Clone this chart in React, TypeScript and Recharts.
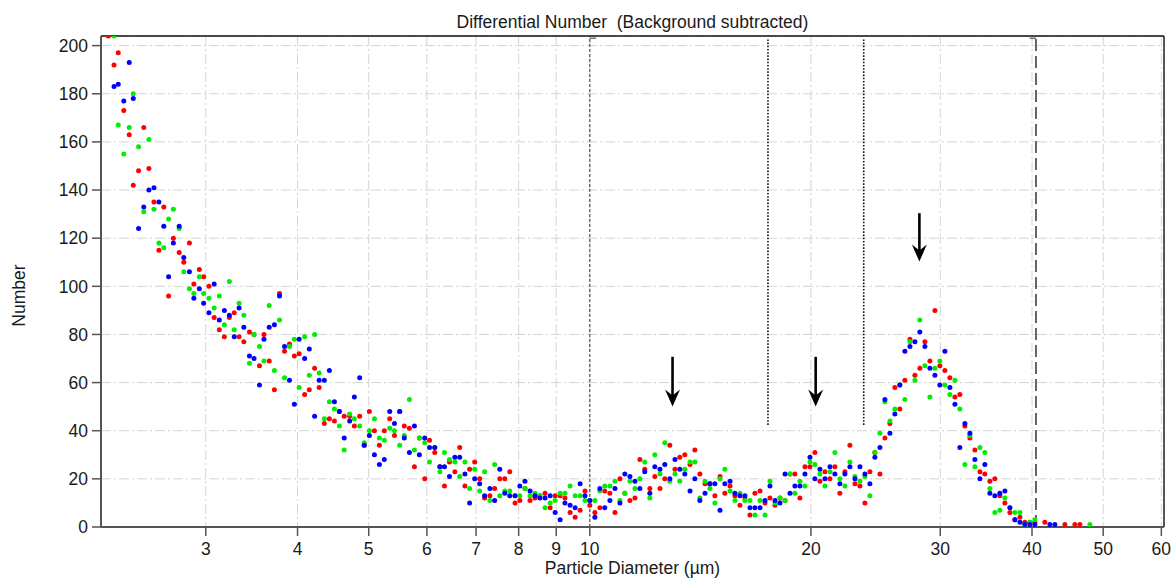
import React from "react";
import {
  ScatterChart,
  Scatter,
  XAxis,
  YAxis,
  CartesianGrid,
  ReferenceLine,
} from "recharts";

// particle diameter channels (µm)
const diameters = [
  2.21, 2.25, 2.28, 2.32, 2.36, 2.39, 2.43, 2.47, 2.51, 2.55,
  2.59, 2.63, 2.67, 2.71, 2.76, 2.8, 2.85, 2.89, 2.94, 2.98,
  3.03, 3.08, 3.13, 3.18, 3.23, 3.28, 3.33, 3.38, 3.44, 3.49,
  3.55, 3.6, 3.66, 3.72, 3.78, 3.84, 3.9, 3.96, 4.02, 4.09,
  4.15, 4.22, 4.28, 4.35, 4.42, 4.49, 4.56, 4.63, 4.71, 4.78,
  4.86, 4.93, 5.01, 5.09, 5.17, 5.25, 5.34, 5.42, 5.51, 5.59,
  5.68, 5.77, 5.86, 5.96, 6.05, 6.15, 6.25, 6.34, 6.44, 6.55,
  6.65, 6.76, 6.86, 6.97, 7.08, 7.19, 7.31, 7.42, 7.54, 7.66,
  7.78, 7.91, 8.03, 8.16, 8.29, 8.42, 8.55, 8.69, 8.83, 8.97,
  9.11, 9.25, 9.4, 9.55, 9.7, 9.85, 10.0, 10.16, 10.32, 10.48,
  10.65, 10.82, 10.99, 11.16, 11.34, 11.52, 11.7, 11.88, 12.07, 12.26,
  12.46, 12.65, 12.85, 13.06, 13.26, 13.47, 13.69, 13.9, 14.12, 14.35,
  14.57, 14.8, 15.04, 15.27, 15.52, 15.76, 16.01, 16.26, 16.52, 16.78,
  17.05, 17.32, 17.59, 17.87, 18.15, 18.44, 18.73, 19.02, 19.32, 19.63,
  19.94, 20.25, 20.57, 20.9, 21.23, 21.56, 21.9, 22.25, 22.6, 22.96,
  23.32, 23.69, 24.06, 24.44, 24.83, 25.22, 25.62, 26.02, 26.43, 26.85,
  27.28, 27.71, 28.14, 28.59, 29.04, 29.5, 29.96, 30.44, 30.92, 31.41,
  31.9, 32.41, 32.92, 33.44, 33.97, 34.5, 35.05, 35.6, 36.16, 36.74,
  37.32, 37.91, 38.51, 39.11, 39.73, 40.36, 41.0, 41.64, 42.3, 42.97,
  43.65, 44.34, 45.04, 45.75, 46.47, 47.21, 47.95, 48.71,
];

// three runs, counts per channel (null = no count)
const runRed = [
  204, 192, 197, 173, 163, 142, 148, 166, 149, 135,
  115, 133, 96, 120, 114, 110, 118, 101, 107, 104,
  100, 87, 82, 79, 87, 89, 79, 77, 81, 80,
  67, 80, 69, 57, 97, 73, 76, 71, 72, 55,
  57, 66, 58, 43, 45, 44, 48, 46, 46, 42,
  46, 34, 48, 40, 34, 40, 45, 38, 48, 42,
  41, 25, 37, 20, 36, 31, 25, 17, 27, 23,
  33, 17, 24, 27, 20, 12, 13, 16, 20, 20,
  23, 10, 11, 16, 11, 12, 13, 14, 8, 13,
  13, 12, 6, 4, 7, 15, 9, 6, 8, 15,
  14, 6, 20, 14, 11, 12, 28, 24, 16, 21,
  16, 20, 34, 24, 29, 30, 26, 32, 22, 18,
  18, 13, 21, 14, 17, 13, 9, 12, 5, 14,
  15, 10, 12, 9, 12, 11, 22, 22, 12, 25,
  25, 31, 19, 23, 20, 25, 14, 23, 34, 18,
  17, 10, 23, 31, 22, 37, 43, 58, 49, 61,
  78, 63, 66, 77, 69, 90, 67, 65, 62, 54,
  55, 42, 37, 32, 23, 22, 19, 20, 13, 10,
  6, 3, 4, 2, 2, 2, null, 2, null, null,
  null, 1, null, 1, 1, null, null, null,
];

const runGreen = [
  null, 204, 167, 155, 166, 180, 158, 131, 161, 132,
  118, 116, 128, 132, 124, 106, 99, 97, 104, 97,
  95, 91, 96, 84, 102, 82, 93, 88, 68, 80,
  75, 69, 92, 65, 86, 62, 75, 78, 58, 79,
  63, 80, 64, 45, 52, 49, 42, 32, 47, 45,
  42, 35, 40, 45, 37, 36, 41, 40, 34, 38,
  53, 32, 37, 35, 27, 33, 23, 31, 28, 27,
  21, 27, 16, 24, 15, 23, 11, 26, 13, 15,
  15, 13, 13, 16, 13, 14, 13, 8, 10, 11,
  14, 14, 17, 13, 13, 11, 11, 11, 15, 17,
  17, 19, 11, 14, 19, 16, 20, 27, 12, 30,
  22, 35, 19, 22, 19, 24, 27, 27, 12, 19,
  16, 10, 20, 24, 15, 11, 14, 11, 11, 5,
  11, 5, 19, 10, 12, 11, 22, 14, 19, 17,
  27, 26, 22, 17, 23, 31, 20, 17, 27, 21,
  19, 21, 13, 31, 39, 52, 44, 49, 59, 53,
  77, 61, 86, 67, 54, 66, 69, 59, 55, 61,
  49, 26, 38, 25, 33, 31, 16, 6, 7, 12,
  8, 6, 6, 1, 2, 3, null, null, null, null,
  null, null, null, null, null, null, 1, null,
];

const runBlue = [
  null, 183, 184, 177, 193, 178, 124, 133, 140, 141,
  135, 125, 104, 118, 125, 112, 106, 95, 99, 93,
  89, 101, 86, 90, 88, 79, 91, 83, 71, 70,
  59, 78, 83, 84, 96, 75, 61, 51, 78, 70,
  74, 46, 61, 61, 65, 52, 48, 37, 44, 54,
  62, 34, 38, 30, 26, 28, 48, 43, 48, 37,
  31, 42, 30, 37, 33, 33, 25, 25, 21, 29,
  29, 22, 10, 20, 18, 13, 16, 11, 24, 14,
  13, 13, 17, 19, 15, 13, 12, 12, 13, 6,
  3, 10, 9, 8, 18, 13, 11, 4, 16, 8,
  11, 16, 10, 22, 21, 19, 16, 23, 14, 25,
  24, 26, 20, 28, 24, 22, 15, 20, 11, 14,
  18, 18, 7, 18, 19, 14, 13, 13, 8, 8,
  8, 11, 17, 11, 10, 22, 14, 17, 17, 22,
  29, 20, 24, 20, 25, 22, 18, 22, 25, 20,
  25, 22, 18, 29, 33, 53, 39, 47, 59, 73,
  75, 77, 81, 75, 66, 63, 59, 73, 58, 51,
  33, 43, 39, 28, 20, 26, 14, 13, 14, 15,
  8, 3, 2, 1, 1, 1, null, null, 1, 1,
  null, null, null, null, null, null, null, null,
];

const xTicks = [3, 4, 5, 6, 7, 8, 9, 10, 20, 30, 40, 50, 60];
const yTicks = [0, 20, 40, 60, 80, 100, 120, 140, 160, 180, 200];

// peak markers (diameter, shaft top, tip)
const arrowX = [12.96, 20.3, 28.1];
const arrowTop = [70.7, 70.7, 130.4];
const arrowTip = [50.1, 50.1, 110.3];

// analysis window bounds and dotted dividers
const windowStart = 10;
const windowEnd = 40.5;
const dividerX = [17.48, 23.6];
const dividerBottom = 42.4;
const bracketY = 203.1;

const X_MIN = 2.16;
const X_MAX = 60.5;
const Y_MAX = 204;

const FONT = '"Liberation Sans", Arial, Helvetica, sans-serif';
// keep the double gap between the two parts of the title
const TITLE = "Differential Number\u00a0 (Background subtracted)";

const toPoints = (ys: (number | null)[]) =>
  diameters
    .map((d, i) => ({ d, n: ys[i] }))
    .filter((p) => p.n !== null && p.n !== undefined);

const dotShape = (color: string) => (props: any) =>
  <circle cx={props.cx} cy={props.cy} r={2.5} fill={color} />;

const ArrowShape = (props: any) => {
  const { x1, y1, x2, y2 } = props;
  if (x1 == null || y2 == null) return null;
  return (
    <g>
      <line x1={x1} y1={y1} x2={x2} y2={y2 - 10} stroke="#000" strokeWidth={2.6} />
      <path
        d={`M${x2},${y2} L${x2 - 7.5},${y2 - 17} L${x2},${y2 - 11} L${x2 + 7.5},${y2 - 17} Z`}
        fill="#000"
      />
    </g>
  );
};

const tickStyle = { fill: "#1a1a1a", fontSize: 17.5, fontFamily: FONT };

export default function App() {
  const redPts = toPoints(runRed);
  const greenPts = toPoints(runGreen);
  const bluePts = toPoints(runBlue);

  return (
    <div style={{ position: "absolute", left: 0, top: 0, width: 1175, height: 580, background: "#fff" }}>
      <ScatterChart
        width={1175}
        height={580}
        margin={{ top: 36, right: 11, bottom: 0, left: 31 }}
      >
        <CartesianGrid stroke="#d4d4d4" strokeDasharray="10 3 2 3" />
        <XAxis
          type="number"
          dataKey="d"
          scale="log"
          domain={[X_MIN, X_MAX]}
          allowDataOverflow
          ticks={xTicks}
          interval={0}
          height={53}
          tick={tickStyle}
          tickSize={9}
          tickMargin={7}
          axisLine={{ stroke: "#555", strokeWidth: 2 }}
          tickLine={{ stroke: "#555", strokeWidth: 1.5 }}
          label={{
            value: "Particle Diameter (µm)",
            position: "insideBottom",
            offset: 6,
            fill: "#1a1a1a",
            fontSize: 17.5,
            fontFamily: FONT,
          }}
        />
        <YAxis
          type="number"
          dataKey="n"
          domain={[0, Y_MAX]}
          allowDataOverflow
          ticks={yTicks}
          interval={0}
          width={70}
          tick={tickStyle}
          tickSize={9}
          tickMargin={4}
          axisLine={{ stroke: "#555", strokeWidth: 2 }}
          tickLine={{ stroke: "#555", strokeWidth: 1.5 }}
          label={{
            content: () => (
              <text
                x={25}
                y={295.5}
                transform="rotate(-90 25 295.5)"
                textAnchor="middle"
                fill="#1a1a1a"
                fontSize={17.5}
                fontFamily={FONT}
              >
                Number
              </text>
            ),
          }}
        />

        {/* frame: top and right borders, title on top */}
        <ReferenceLine
          y={Y_MAX}
          stroke="#111"
          strokeWidth={1.5}
          ifOverflow="visible"
          label={{
            value: TITLE,
            position: "top",
            offset: 8,
            fill: "#1a1a1a",
            fontSize: 17.5,
            fontFamily: FONT,
          }}
        />
        <ReferenceLine x={X_MAX} stroke="#222" strokeWidth={1.5} ifOverflow="visible" />

        {/* analysis window */}
        <ReferenceLine
          segment={[{ x: windowStart, y: 0 }, { x: windowStart, y: bracketY }]}
          stroke="#333"
          strokeWidth={1}
          strokeDasharray="3 2"
          ifOverflow="visible"
        />
        <ReferenceLine
          segment={[{ x: windowStart, y: bracketY }, { x: 10.2, y: bracketY }]}
          stroke="#333"
          strokeWidth={1}
          ifOverflow="visible"
        />
        <ReferenceLine
          segment={[{ x: windowEnd, y: 0 }, { x: windowEnd, y: bracketY }]}
          stroke="#333"
          strokeWidth={1.5}
          strokeDasharray="12 5"
          ifOverflow="visible"
        />
        <ReferenceLine
          segment={[{ x: 39.7, y: bracketY }, { x: windowEnd, y: bracketY }]}
          stroke="#333"
          strokeWidth={1}
          ifOverflow="visible"
        />
        {dividerX.map((x) => (
          <ReferenceLine
            key={`div-${x}`}
            segment={[{ x, y: dividerBottom }, { x, y: 202.5 }]}
            stroke="#111"
            strokeWidth={1.6}
            strokeDasharray="1.6 1.6"
            ifOverflow="visible"
          />
        ))}

        <Scatter data={redPts} fill="#ff0000" shape={dotShape("#ff0000")} isAnimationActive={false} />
        <Scatter data={greenPts} fill="#00ee00" shape={dotShape("#00ee00")} isAnimationActive={false} />
        <Scatter data={bluePts} fill="#0000ff" shape={dotShape("#0000ff")} isAnimationActive={false} />

        {arrowX.map((x, i) => (
          <ReferenceLine
            key={`arrow-${i}`}
            segment={[{ x, y: arrowTop[i] }, { x, y: arrowTip[i] }]}
            shape={ArrowShape}
            ifOverflow="visible"
          />
        ))}
      </ScatterChart>
    </div>
  );
}
